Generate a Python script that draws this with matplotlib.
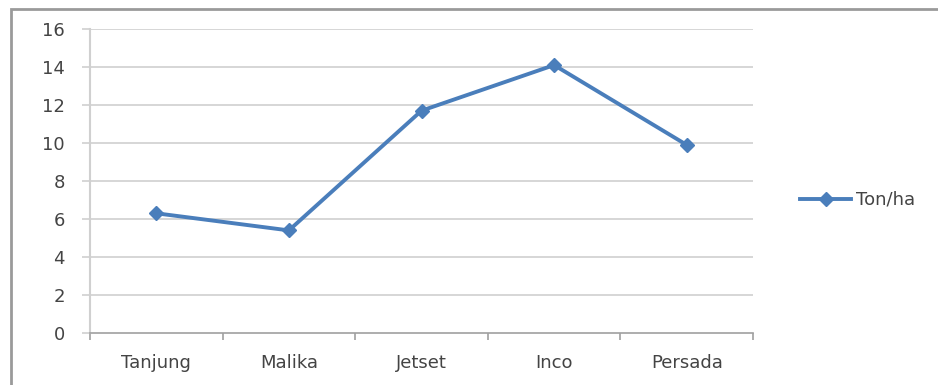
import matplotlib
matplotlib.use("Agg")
import matplotlib.pyplot as plt
from matplotlib.patches import Rectangle
from matplotlib.lines import Line2D

categories = ["Tanjung", "Malika", "Jetset", "Inco", "Persada"]
values = [6.3, 5.4, 11.7, 14.1, 9.9]
series_name = "Ton/ha"
yticks = [0, 2, 4, 6, 8, 10, 12, 14, 16]

plt.rcParams['font.family'] = ['DejaVu Sans']
txt = '#444444'
grid = '#d0d0d0'
blue = '#4a7ebb'
fs = 13

fig = plt.figure(figsize=(9.38, 3.85), dpi=100)
W, H = 938, 385
ax = fig.add_axes([90/W, (H-333)/H, (753-90)/W, (333-29)/H])

x = list(range(len(categories)))
ax.plot(x, values, color=blue, lw=2.8, marker='D', ms=7.5, mfc=blue, mec=blue,
        label=series_name, zorder=3)

ax.set_xlim(-0.5, len(categories)-0.5)
ax.set_ylim(0, 16)
ax.set_yticks(yticks)
ax.set_yticklabels([str(v) for v in yticks])
ax.set_xticks(x)
ax.set_xticklabels(categories)
ax.set_xticks([i-0.5 for i in range(len(categories)+1)], minor=True)
ax.tick_params(axis='x', which='major', length=0, pad=15, labelsize=fs, colors=txt)
ax.tick_params(axis='x', which='minor', length=5, direction='out', color='#a0a0a0', width=1.2)
ax.tick_params(axis='y', length=6, direction='out', color=grid, width=1.2,
               pad=12, labelsize=fs, labelcolor=txt)
for yv in yticks[1:]:
    ax.axhline(yv, color=grid, lw=1.2, zorder=1)
for s in ['top', 'right']:
    ax.spines[s].set_visible(False)
ax.spines['left'].set_color(grid)
ax.spines['left'].set_linewidth(1.5)
ax.spines['bottom'].set_color('#a0a0a0')
ax.spines['bottom'].set_linewidth(1.2)

leg = fig.legend(handles=[Line2D([0], [0], color=blue, lw=2.8, marker='D', ms=7.5,
                                 mfc=blue, mec=blue)],
                 labels=[series_name], loc='center left',
                 bbox_to_anchor=(784/W, (H-200)/H), frameon=False,
                 fontsize=fs, handlelength=2.8, handletextpad=0.3,
                 labelcolor=txt)

# outer chart frame (left and top visible)
fig.patches.append(Rectangle((11/W, -0.05), 1.2, (H-9)/H + 0.05,
                             transform=fig.transFigure, fill=False,
                             edgecolor='#9a9a9a', lw=2, zorder=0))

fig.savefig('out.png', dpi=100)
